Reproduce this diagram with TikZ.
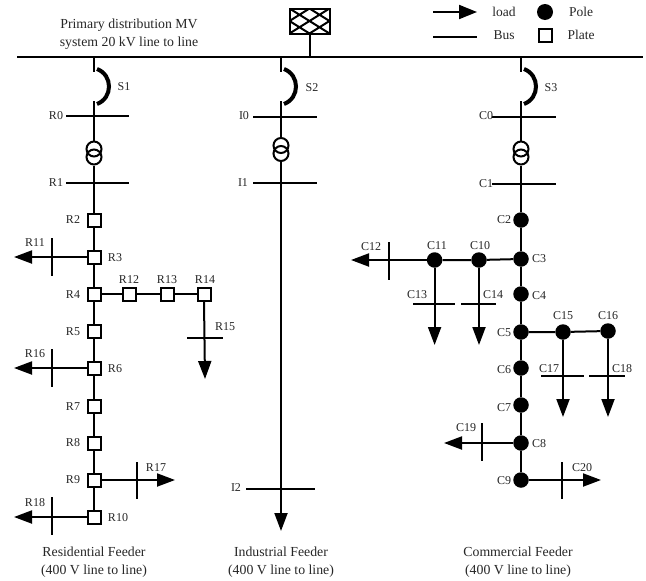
\documentclass[tikz,border=0pt]{standalone}
\usepackage{fontspec}
\setmainfont{Liberation Serif}
\usetikzlibrary{arrows.meta}
\tikzset{
  wire/.style={line width=2pt},
  loadline/.style={line width=2pt,-{Triangle[length=18pt,width=13pt]}},
  plate/.style={draw,line width=2pt,fill=white,minimum size=13pt,inner sep=0pt,rectangle},
  pole/.style={fill=black,circle,minimum size=15.5pt,inner sep=0pt},
  coil/.style={draw,line width=2pt,circle,minimum size=15pt,inner sep=0pt},
  lab/.style={inner sep=0pt,font=\fontsize{12}{13}\selectfont,text=black!85},
  leg/.style={inner sep=0pt,font=\fontsize{13.5}{14}\selectfont,text=black!85},
  captext/.style={inner sep=0pt,align=center,font=\fontsize{13.8}{18}\selectfont,text=black!85},
  brk/.style={line width=4pt},
}
\newcommand{\xbar}[4]{\coordinate (#1a) at (#2,#4);\coordinate (#1b) at (#3,#4);\draw[wire] (#1a) -- (#1b);}
\newcommand{\ybar}[4]{\coordinate (#1a) at (#2,#3);\coordinate (#1b) at (#2,#4);\draw[wire] (#1a) -- (#1b);}
\newcommand{\lbl}[4]{\node[lab] (#1) at (#2,#3) {#4};}
\newcommand{\lgl}[4]{\node[leg] (#1) at (#2,#3) {#4};}
\begin{document}
\begin{tikzpicture}[x=1pt,y=-1pt]
\useasboundingbox (0,0) rectangle (646,581);
% main bus
\coordinate (mainL) at (17,57);
\coordinate (mainR) at (643,57);
\draw[line width=2.3pt] (mainL) -- (mainR);
\node[draw,line width=2pt,minimum width=40pt,minimum height=25pt,inner sep=0pt,
  path picture={\draw[line width=2pt] (path picture bounding box.north west) -- (path picture bounding box.south east)
     (path picture bounding box.south west) -- (path picture bounding box.north east)
     (path picture bounding box.west) -- (path picture bounding box.north)
     (path picture bounding box.north) -- (path picture bounding box.east)
     (path picture bounding box.east) -- (path picture bounding box.south)
     (path picture bounding box.south) -- (path picture bounding box.west);}] (src) at (309.5,21) {};
\coordinate (srcT) at (309.5,57);
\draw[wire] (src) -- (srcT);
\node[captext] (prim) at (129,34) {Primary distribution MV\\system 20 kV line to line};
% legend
\coordinate (lgA) at (433,12); \coordinate (lgB) at (477,12);
\draw[line width=2pt,-{Triangle[length=18pt,width=14pt]}] (lgA) -- (lgB);
\xbar{lgbus}{433}{477}{37}
\node[pole,minimum size=16pt] (lgpole) at (545,12) {};
\node[plate,minimum size=13pt] (lgplate) at (545,35) {};
\lgl{lload}{504}{12}{load}\lgl{lbus}{504}{35}{Bus}\lgl{lpole}{581}{12}{Pole}\lgl{lplate}{581}{35}{Plate}
% switches and transformers
\foreach \n/\x/\yb/\yt/\ya/\yc in {r/94/116/149/157/183,i/281/117/145.5/153.5/183,c/521/117/149/157/184}{
  \coordinate (\n top) at (\x,57);
  \coordinate (\n s1) at (\x,72);
  \coordinate (\n s2) at (\x,101);
  \coordinate (\n j0) at (\x,\yb);
  \coordinate (\n j1) at (\x,\yc);
  \draw[wire] (\n top) -- (\n s1);
  \draw[brk] ([xshift=3pt,yshift=3pt]\n s1) .. controls +(16,6) and +(16,-6) .. ([xshift=3pt,yshift=-32pt]\n s1);
  \node[coil] (\n t1) at (\x,\yt) {};
  \node[coil] (\n t2) at (\x,\ya) {};
  \draw[wire] (\n s2) -- (\n t1.north);
  \draw[wire] (\n t2.south) -- (\n j1);
}
\lbl{lS1}{124}{87}{S1}\lbl{lS2}{312}{88}{S2}\lbl{lS3}{551}{88}{S3}
\xbar{R0bus}{66}{129}{116}\xbar{R1bus}{66}{129}{183}
\xbar{I0bus}{253}{317}{117}\xbar{I1bus}{253}{317}{183}
\xbar{C0bus}{492}{556}{117}\xbar{C1bus}{492}{556}{184}
\lbl{lR0}{56}{116}{R0}\lbl{lR1}{56}{183}{R1}
\lbl{lI0}{244}{116}{I0}\lbl{lI1}{243}{183}{I1}
\lbl{lC0}{486}{116}{C0}\lbl{lC1}{486}{184}{C1}
% residential wires
\coordinate (R11t) at (14,257);\coordinate (R16t) at (14,368);\coordinate (R18t) at (14,517);
\coordinate (R15t) at (205,379);\coordinate (R17t) at (175,480);
\foreach \n/\x/\y in {R2/94/220,R3/94/257,R4/94/294,R5/94/331,R6/94/368,R7/94/406,R8/94/443,R9/94/480,R10/94/517,R12/129/294,R13/167/294,R14/204/294}{
  \node[plate] (\n) at (\x,\y) {};
}
\draw[wire] (rj1) -- (R2) -- (R3) -- (R4) -- (R5) -- (R6) -- (R7) -- (R8) -- (R9) -- (R10);
\draw[wire] (R4) -- (R12) -- (R13) -- (R14);
\draw[loadline] (R3) -- (R11t);
\draw[loadline] (R6) -- (R16t);
\draw[loadline] (R10) -- (R18t);
\draw[loadline] (R14.south) -- (R15t);
\draw[loadline] (R9) -- (R17t);
\ybar{R11bar}{52}{238}{276}\ybar{R16bar}{52}{349}{387}\ybar{R18bar}{52}{497}{535}\ybar{R17bar}{137}{462}{499}
\xbar{R15bar}{187}{223}{338}
\lbl{lR2}{73}{220}{R2}\lbl{lR3}{115}{258}{R3}\lbl{lR4}{73}{295}{R4}\lbl{lR5}{73}{332}{R5}
\lbl{lR6}{115}{369}{R6}\lbl{lR7}{73}{407}{R7}\lbl{lR8}{73}{443}{R8}\lbl{lR9}{73}{480}{R9}\lbl{lR10}{118}{518}{R10}
\lbl{lR11}{35}{243}{R11}\lbl{lR12}{129}{280}{R12}\lbl{lR13}{167}{280}{R13}\lbl{lR14}{205}{280}{R14}
\lbl{lR15}{225}{327}{R15}\lbl{lR16}{35}{354}{R16}\lbl{lR17}{156}{468}{R17}\lbl{lR18}{35}{503}{R18}
% industrial
\coordinate (I2t) at (281,531);
\draw[loadline] (ij1) -- (I2t);
\xbar{I2bus}{246}{315}{489}
\lbl{lI2}{236}{488}{I2}
% commercial wires
\foreach \n/\x/\y in {C2/521/220,C3/521/259,C4/521/294,C5/521/332,C6/521/368,C7/521/405,C8/521/443,C9/521/480,C10/479/260,C11/434.6/260,C15/563/332,C16/608/331}{
  \node[pole] (\n) at (\x,\y) {};
}
\coordinate (C12t) at (351,260);\coordinate (C13t) at (434.6,345);\coordinate (C14t) at (479,345);
\coordinate (C17t) at (563,417);\coordinate (C18t) at (608,417);\coordinate (C19t) at (444,443);\coordinate (C20t) at (601,480);
\draw[wire] (cj1) -- (C2) -- (C3) -- (C4) -- (C5) -- (C6) -- (C7) -- (C8) -- (C9);
\draw[wire] (C3) -- (C10) -- (C11);
\draw[wire] (C5) -- (C15) -- (C16);
\draw[loadline] (C11) -- (C12t);
\draw[loadline] (C11) -- (C13t);
\draw[loadline] (C10) -- (C14t);
\draw[loadline] (C15) -- (C17t);
\draw[loadline] (C16) -- (C18t);
\draw[loadline] (C8) -- (C19t);
\draw[loadline] (C9) -- (C20t);
\ybar{C12bar}{389}{242}{280}\xbar{C13bar}{413}{455}{304}\xbar{C14bar}{461}{496}{304}
\xbar{C17bar}{541}{584}{376}\xbar{C18bar}{589}{625}{376}
\ybar{C19bar}{482}{423}{461}\ybar{C20bar}{562}{462}{499}
\lbl{lC2}{504}{220}{C2}\lbl{lC3}{539}{259}{C3}\lbl{lC4}{539}{296}{C4}\lbl{lC5}{504}{333}{C5}
\lbl{lC6}{504}{370}{C6}\lbl{lC7}{504}{408}{C7}\lbl{lC8}{539}{444}{C8}\lbl{lC9}{504}{481}{C9}
\lbl{lC10}{480}{246}{C10}\lbl{lC11}{437}{246}{C11}\lbl{lC12}{371}{247}{C12}\lbl{lC13}{417}{295}{C13}
\lbl{lC14}{493}{295}{C14}\lbl{lC15}{563}{316}{C15}\lbl{lC16}{608}{316}{C16}\lbl{lC17}{549}{369}{C17}
\lbl{lC18}{622}{369}{C18}\lbl{lC19}{466}{428}{C19}\lbl{lC20}{582}{468}{C20}
% captions
\node[captext] (capR) at (94,562) {Residential Feeder\\(400 V line to line)};
\node[captext] (capI) at (281,562) {Industrial Feeder\\(400 V line to line)};
\node[captext] (capC) at (518,562) {Commercial Feeder\\(400 V line to line)};
\end{tikzpicture}
\end{document}
